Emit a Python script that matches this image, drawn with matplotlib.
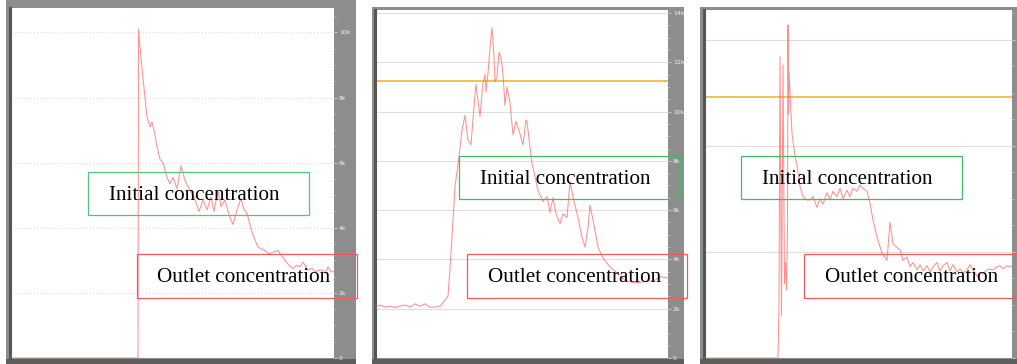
import numpy as np
import matplotlib.pyplot as plt
from matplotlib.patches import Rectangle
from matplotlib.ticker import MultipleLocator, FuncFormatter

# Run 1: sharp jump, then decay of the outlet concentration (ppm)
t1 = [0, 128, 128.5, 131, 134, 137, 140, 142, 144, 147, 150, 153, 157, 160, 163,
      167, 171, 175, 180, 184, 189, 193, 197, 201, 204, 208, 211, 215, 219, 223,
      227, 231, 234, 237, 242, 248, 255, 259, 263, 268, 275, 279, 283, 287, 290,
      293, 298, 302, 305, 309, 312, 315, 318, 321, 324]
c1 = [0, 0, 10100, 9200, 8300, 7400, 7100, 7250, 7000, 6500, 6100, 6000, 5550,
      5350, 5550, 5200, 5900, 5450, 5150, 4950, 4500, 4850, 4550, 4950, 4500, 5150,
      4650, 4850, 4400, 4100, 4550, 4900, 4550, 4450, 3850, 3400, 3300, 3200, 3250,
      3300, 3000, 2850, 2750, 2850, 2800, 2950, 2700, 2750, 2650, 2700, 2700, 2600,
      2800, 2650, 2650]

# Run 2: slow rise from ~2k, oscillating peak, then decline
t2 = [0, 5, 10, 15, 20, 25, 30, 35, 40, 45, 50, 55, 60, 65, 70, 73, 76, 80, 84,
      87, 90, 93, 96, 99, 101, 105, 108, 110, 111, 113, 115, 117, 119, 120, 122,
      124, 126, 128, 130, 132, 135, 138, 141, 145, 148, 151, 152, 155, 157, 160,
      163, 168, 172, 175, 178, 181, 185, 188, 192, 195, 199, 203, 207, 210, 213,
      215, 218, 223, 228, 235, 242, 250, 260, 270, 280, 285, 293]
c2 = [2070, 2150, 2070, 2100, 2050, 2110, 2150, 2070, 2200, 2100, 2200, 2060,
      2060, 2100, 2350, 2500, 4250, 6950, 8150, 9250, 9850, 8850, 8650, 10200,
      11100, 9800, 11150, 11500, 10800, 11550, 12600, 13400, 12200, 11200, 11400,
      12400, 12200, 11500, 10250, 11000, 10350, 9050, 9600, 9100, 8650, 9650, 9600,
      8550, 7900, 7350, 6800, 6350, 6550, 5900, 6500, 5850, 5450, 5850, 5700, 7150,
      6350, 5700, 4900, 4500, 5300, 6200, 5600, 4500, 4050, 3700, 3450, 3150, 3050,
      3100, 3150, 3300, 3250]
initial2 = 11250

# Run 3: unstable start with sharp spikes, plateau, then drop
t3 = [0, 74, 75, 76, 77.5, 79, 80.5, 81.5, 82.5, 83.5, 84, 84.5, 85, 88, 91, 93,
      96, 99, 103, 106, 109, 113, 116, 119, 123, 126, 129, 133, 136, 139, 143, 146,
      149, 153, 156, 159, 163, 166, 169, 173, 178, 183, 186, 189, 193, 196, 199,
      203, 206, 209, 213, 216, 219, 223, 226, 229, 233, 236, 239, 243, 246, 249,
      253, 256, 259, 263, 266, 269, 273, 276, 279, 283, 286, 289, 293, 296, 299,
      303, 306, 308]
c3 = [0, 0, 2500, 14200, 2000, 13800, 3500, 4500, 3200, 6200, 15700, 11500, 13500,
      10600, 9500, 9100, 8100, 7600, 7450, 7450, 7600, 7100, 7500, 7250, 7800,
      7450, 7850, 7600, 8000, 7500, 7900, 7600, 8000, 7850, 8150, 8000, 7850, 7300,
      6500, 5700, 4950, 4600, 6400, 5400, 5200, 5100, 4600, 4750, 4300, 4500, 4150,
      4400, 4100, 4350, 4050, 4300, 4500, 4100, 4350, 4500, 4100, 4400, 4050, 4200,
      4000, 4150, 4400, 4150, 3850, 4050, 3950, 4150, 4200, 4150, 4300, 4350, 4200,
      4350, 4300, 4300]
initial3 = 12300

W, H = 1017, 364
fig = plt.figure(figsize=(W / 100, H / 100), dpi=100)
fig.patch.set_facecolor("white")


def box(x0, y0, x1, y1):
    # pixel box (top-left origin) -> figure fraction [l, b, w, h]
    return [x0 / W, 1 - y1 / H, (x1 - x0) / W, (y1 - y0) / H]


def kfmt(v, pos):
    return "0" if v == 0 else f"{v / 1000:.0f}k"


def panel(frame, plot, t, c, xmax, ymax, step, grid_ls, initial=None):
    fx0, fy0, fx1, fy1 = frame
    fig.add_artist(Rectangle((fx0 / W, 1 - fy1 / H), (fx1 - fx0) / W, (fy1 - fy0) / H,
                             transform=fig.transFigure, facecolor="#8d8d8d",
                             edgecolor="none", zorder=0))
    # darker bottom edge of the frame
    fig.add_artist(Rectangle((fx0 / W, 1 - fy1 / H), (fx1 - fx0) / W, 5 / H,
                             transform=fig.transFigure, facecolor="#5e5e5e",
                             edgecolor="none", zorder=0))
    ax = fig.add_axes(box(*plot))
    ax.set_facecolor("white")
    ax.plot(t, c, color="#ff6b6b", lw=0.75, alpha=0.75, zorder=3)
    if initial is not None:
        ax.axhline(initial, color="#f2b01e", lw=1.1, zorder=2)
    ax.set_xlim(0, xmax)
    ax.set_ylim(0, ymax)
    ax.set_xticks([])
    ax.yaxis.tick_right()
    ax.yaxis.set_major_locator(MultipleLocator(step))
    ax.yaxis.set_minor_locator(MultipleLocator(step / 4))
    ax.yaxis.set_major_formatter(FuncFormatter(kfmt))
    ax.tick_params(axis="y", which="major", length=2, width=0.6, color="#d5d5d5",
                   pad=1.5, labelsize=4.5, labelcolor="#f2f2f2")
    ax.tick_params(axis="y", which="minor", length=1.5, width=0.5, color="#c8c8c8")
    ax.grid(axis="y", color="#dedede", lw=0.8, ls=grid_ls)
    for side in ["top", "right", "bottom"]:
        ax.spines[side].set_visible(False)
    ax.spines["left"].set_color("#555555")
    ax.spines["left"].set_linewidth(2.2)
    return ax


ax1 = panel((6, 0, 356, 364), (10, 8, 334, 358), t1, c1, 324, 10750, 2000, ":")
ax2 = panel((372, 7, 684, 364), (375, 10, 668, 358), t2, c2, 293, 14120, 2000, "-",
            initial2)
ax3 = panel((700, 7, 1017, 364), (704, 10, 1012, 358), t3, c3, 308, 16400, 5000, "-",
            initial3)

# annotation boxes over each panel
labels = [
    ((88, 172, 309, 215), 109, "#56c27e", "Initial concentration"),
    ((137, 254, 357, 298), 157, "#f05a5a", "Outlet concentration"),
    ((459, 156, 680, 199), 480, "#46b86a", "Initial concentration"),
    ((467, 254, 687, 298), 488, "#f05a5a", "Outlet concentration"),
    ((741, 156, 962, 199), 762, "#46b86a", "Initial concentration"),
    ((804, 254, 1024, 298), 825, "#f05a5a", "Outlet concentration"),
]
for (x0, y0, x1, y1), tx, col, txt in labels:
    fig.add_artist(Rectangle((x0 / W, 1 - y1 / H), (x1 - x0) / W, (y1 - y0) / H,
                             transform=fig.transFigure, facecolor="none",
                             edgecolor=col, lw=0.9, zorder=10))
    fig.text(tx / W, 1 - (y0 + y1) / 2 / H - 2 / H, txt, ha="left", va="center",
             fontsize=15.2, family="Liberation Serif", color="black", zorder=11)

fig.savefig("out.png", dpi=100)
